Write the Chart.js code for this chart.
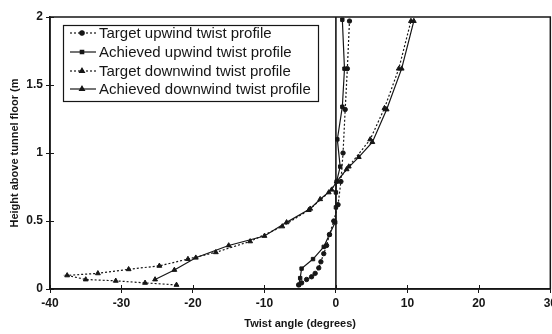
<!DOCTYPE html>
<html><head><meta charset="utf-8">
<script src="https://cdn.jsdelivr.net/npm/chart.js@4/dist/chart.umd.min.js"></script>
<style>
html,body{margin:0;padding:0;background:#fff;overflow:hidden;width:552px;height:334px}
#wrap{position:relative;width:560px;height:334px}
</style></head><body>
<div id="wrap"><canvas id="c"></canvas></div>
<script>
// ---- data ----
const seriesLabels = ['Target upwind twist profile','Achieved upwind twist profile','Target downwind twist profile','Achieved downwind twist profile'];
const xTickValues = [-40,-30,-20,-10,0,10,20,30];
const yTickValues = [0,0.5,1,1.5,2];

const targetUpwindX = [-5.2,-4.8,-4.1,-3.4,-2.9,-2.4,-2.1,-1.7,-1.3,-0.9,-0.3,0.3,0.7,1.0,1.3,1.6,1.9];
const targetUpwindY = [0.03,0.045,0.07,0.09,0.115,0.155,0.20,0.26,0.32,0.40,0.50,0.62,0.79,1.0,1.32,1.62,1.97];

const achievedUpwindX = [-5.2,-5.0,-4.8,-3.2,-1.7,-0.9,-0.1,0.0,0.0,0.1,0.6,0.2,0.9,1.2,0.9];
const achievedUpwindY = [0.03,0.08,0.15,0.22,0.31,0.40,0.49,0.60,0.71,0.79,0.90,1.10,1.34,1.62,1.98];

const targetDownwindX = [-22.3,-26.7,-30.8,-35.0,-37.6,-33.3,-29.0,-24.7,-20.7,-16.8,-12.0,-7.5,-3.8,-1.0,1.8,4.8,6.8,8.8,10.5];
const targetDownwindY = [0.03,0.045,0.06,0.07,0.10,0.115,0.145,0.17,0.22,0.27,0.35,0.46,0.58,0.71,0.90,1.10,1.33,1.62,1.97];

const achievedDownwindX = [-25.3,-22.6,-19.6,-15.0,-10.0,-6.9,-3.6,-2.2,-0.6,0.1,1.5,3.2,5.1,7.1,9.2,10.9];
const achievedDownwindY = [0.07,0.14,0.23,0.32,0.39,0.49,0.59,0.66,0.73,0.79,0.88,0.97,1.08,1.32,1.62,1.97];

const toPts = (xs, ys) => xs.map((x, i) => ({x: x, y: ys[i]}));
const INK = '#161616';
const FONT = "'Liberation Sans', Arial, sans-serif";

function ds(label, xs, ys, dashed, style, radius) {
  return {
    label: label, data: toPts(xs, ys), showLine: true,
    borderColor: INK, borderWidth: 1.2, borderDash: dashed ? [2, 2] : [],
    pointStyle: style, pointRadius: radius, pointBackgroundColor: INK, pointBorderColor: INK,
    pointBorderWidth: 1, tension: 0
  };
}

const framePlugin = {
  id: 'frame',
  beforeDatasetsDraw(chart) {
    const {ctx, chartArea: a, scales: {x}} = chart;
    const zx = x.getPixelForValue(0);
    ctx.save(); ctx.strokeStyle = INK; ctx.lineWidth = 1.6;
    ctx.beginPath(); ctx.moveTo(zx, a.top); ctx.lineTo(zx, a.bottom); ctx.stroke();
    ctx.restore();
  },
  afterDraw(chart) {
    const {ctx, chartArea: a, scales: {x, y}} = chart;
    ctx.save();
    ctx.strokeStyle = INK; ctx.lineWidth = 1.5;
    ctx.strokeRect(a.left, a.top, a.right - a.left, a.bottom - a.top);
    ctx.lineWidth = 1;
    // inner halves of ticks
    xTickValues.forEach(v => { const px = Math.round(x.getPixelForValue(v)) + 0.5;
      ctx.beginPath(); ctx.moveTo(px, a.bottom); ctx.lineTo(px, a.bottom - 4); ctx.stroke(); });
    yTickValues.forEach(v => { const py = Math.round(y.getPixelForValue(v)) + 0.5;
      ctx.beginPath(); ctx.moveTo(a.left, py); ctx.lineTo(a.left + 4, py); ctx.stroke(); });
    // legend box
    const bx = 63, by = 25, bw = 255, bh = 76;
    ctx.fillStyle = '#fff'; ctx.fillRect(bx, by, bw, bh);
    ctx.lineWidth = 1.2; ctx.strokeRect(bx + 0.5, by + 0.5, bw, bh);
    const rows = [33, 52, 71, 89];
    chart.data.datasets.forEach((d, i) => {
      const ry = rows[i];
      ctx.strokeStyle = INK; ctx.lineWidth = 1.2;
      ctx.setLineDash(d.borderDash);
      ctx.beginPath(); ctx.moveTo(70, ry); ctx.lineTo(96, ry); ctx.stroke();
      ctx.setLineDash([]);
      ctx.fillStyle = INK;
      Chart.helpers.drawPoint(ctx, {pointStyle: d.pointStyle, radius: d.pointRadius, borderWidth: 1, rotation: 0}, 82, ry);
      ctx.fill();
      ctx.fillStyle = INK; ctx.font = '15px ' + FONT; ctx.textBaseline = 'middle'; ctx.textAlign = 'left';
      ctx.fillText(d.label, 99, ry + 0.5);
    });
    ctx.restore();
  }
};

const tickFont = {family: FONT, size: 12, weight: 'bold'};
const titleFont = {family: FONT, size: 11, weight: 'bold'};

new Chart(document.getElementById('c'), {
  type: 'scatter',
  data: {
    datasets: [
      ds(seriesLabels[0], targetUpwindX, targetUpwindY, true, 'circle', 2.2),
      ds(seriesLabels[1], achievedUpwindX, achievedUpwindY, false, 'rect', 2.4),
      ds(seriesLabels[2], targetDownwindX, targetDownwindY, true, 'triangle', 2.8),
      ds(seriesLabels[3], achievedDownwindX, achievedDownwindY, false, 'triangle', 2.8)
    ]
  },
  options: {
    responsive: true, maintainAspectRatio: false, animation: false,
    layout: {padding: {top: 17, right: 5, left: 0, bottom: 0}},
    plugins: {legend: {display: false}, tooltip: {enabled: false}},
    scales: {
      x: {
        type: 'linear', min: -40, max: 30,
        afterBuildTicks: s => { s.ticks = xTickValues.map(v => ({value: v})); },
        ticks: {color: INK, font: tickFont, padding: 3, maxRotation: 0, callback: v => String(v)},
        grid: {display: true, drawOnChartArea: false, tickLength: 4, color: INK, lineWidth: 1},
        border: {display: true, color: INK, width: 1.5},
        title: {display: true, text: 'Twist angle (degrees)', color: INK, font: titleFont, padding: {top: 0, bottom: 3}},
        afterFit: s => { s.height = 45; }
      },
      y: {
        type: 'linear', min: 0, max: 2,
        afterBuildTicks: s => { s.ticks = yTickValues.map(v => ({value: v})); },
        ticks: {color: INK, font: tickFont, padding: 3, callback: v => String(v)},
        grid: {display: true, drawOnChartArea: false, tickLength: 4, color: INK, lineWidth: 1},
        border: {display: true, color: INK, width: 1.5},
        title: {display: true, text: 'Height above tunnel floor (m', color: INK, font: titleFont, padding: {top: 8, bottom: 0}},
        afterFit: s => { s.width = 50; }
      }
    }
  },
  plugins: [framePlugin]
});
</script>
</body></html>
